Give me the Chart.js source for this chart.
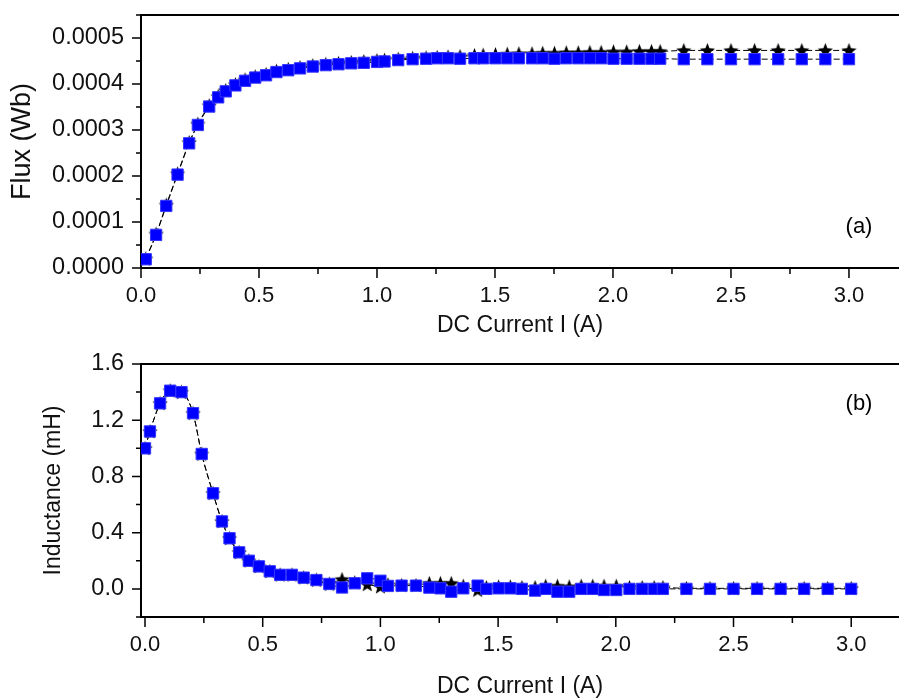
<!DOCTYPE html>
<html>
<head>
<meta charset="utf-8">
<script src="https://cdn.jsdelivr.net/npm/chart.js@4.4.1/dist/chart.umd.min.js"></script>
<style>
  html, body { margin: 0; background: #fff; overflow: hidden; }
  #wrapA { position: absolute; left: 0; top: 0; width: 908px; height: 340px; }
  #wrapB { position: absolute; left: 0; top: 340px; width: 908px; height: 360px; }
</style>
</head>
<body>
<div id="wrapA"><canvas id="fluxChart"></canvas></div>
<div id="wrapB"><canvas id="indChart"></canvas></div>
<script>
// DC current (A) for panel (a)
var currentA = [0.02, 0.064, 0.107, 0.155, 0.204, 0.241, 0.289, 0.327, 0.359, 0.4,
  0.441, 0.484, 0.53, 0.574, 0.624, 0.674, 0.728, 0.783, 0.837, 0.891,
  0.944, 1.0, 1.032, 1.09, 1.151, 1.208, 1.255, 1.301, 1.352, 1.413,
  1.45, 1.502, 1.552, 1.601, 1.657, 1.702, 1.752, 1.802, 1.853, 1.902,
  1.95, 2.002, 2.058, 2.112, 2.163, 2.2, 2.3, 2.4, 2.5, 2.6, 2.7, 2.8, 2.9, 3.0];

// flux (Wb), star series
var fluxStar = [0.000020, 0.000074, 0.000137, 0.000205, 0.000273, 0.000313, 0.000353, 0.000373, 0.000386, 0.000399,
  0.000409, 0.000416, 0.000421, 0.000428, 0.000432, 0.000436, 0.000440, 0.000443, 0.000445, 0.000447,
  0.000449, 0.000451, 0.000452, 0.000454, 0.000456, 0.000457, 0.000458, 0.000459, 0.000460, 0.000462,
  0.000463, 0.000464, 0.000465, 0.000466, 0.000466, 0.000467, 0.000467, 0.000468, 0.000468, 0.000469,
  0.000469, 0.000470, 0.000470, 0.000471, 0.000471, 0.000471, 0.000473, 0.000473, 0.000473, 0.000473, 0.000473, 0.000473, 0.000473, 0.000473];

// flux (Wb), square series
var fluxSquare = [0.000019, 0.000072, 0.000135, 0.000203, 0.000271, 0.000311, 0.000351, 0.000371, 0.000384, 0.000397,
  0.000407, 0.000414, 0.000419, 0.000426, 0.000430, 0.000434, 0.000438, 0.000441, 0.000443, 0.000445,
  0.000446, 0.000448, 0.000449, 0.000452, 0.000454, 0.000455, 0.000456, 0.000456, 0.000455, 0.000456,
  0.000456, 0.000456, 0.000456, 0.000456, 0.000456, 0.000456, 0.000455, 0.000456, 0.000456, 0.000456,
  0.000456, 0.000455, 0.000455, 0.000455, 0.000455, 0.000455, 0.000454, 0.000454, 0.000454, 0.000454, 0.000454, 0.000454, 0.000454, 0.000454];

// DC current (A) for panel (b)
var currentB = [0.0, 0.021, 0.064, 0.107, 0.155, 0.204, 0.241, 0.289, 0.327, 0.359, 0.4,
  0.441, 0.484, 0.53, 0.574, 0.624, 0.674, 0.728, 0.783, 0.837, 0.891,
  0.944, 1.0, 1.032, 1.09, 1.151, 1.208, 1.255, 1.301, 1.352, 1.413,
  1.45, 1.502, 1.552, 1.601, 1.657, 1.702, 1.752, 1.802, 1.853, 1.902,
  1.95, 2.002, 2.058, 2.112, 2.163, 2.2, 2.3, 2.4, 2.5, 2.6, 2.7, 2.8, 2.9, 3.0];

// inductance (mH)
var indStar = [1.00, 1.12, 1.32, 1.41, 1.40, 1.25, 0.96, 0.68, 0.48, 0.36, 0.26,
  0.20, 0.16, 0.125, 0.10, 0.10, 0.08, 0.063, 0.035, 0.068, 0.045,
  0.033, 0.016, 0.03, 0.025, 0.025, 0.04, 0.04, 0.04, 0.02, -0.008,
  0.01, 0.015, 0.015, 0.01, 0.01, 0.02, 0.02, 0.015, 0.02, 0.02,
  0.02, 0.02, 0.01, 0.01, 0.01, 0.01, 0.004, 0.004, 0.004, 0.004, 0.004, 0.004, 0.004, 0.004];

var indSquare = [1.00, 1.12, 1.32, 1.41, 1.40, 1.25, 0.96, 0.68, 0.48, 0.36, 0.26,
  0.20, 0.16, 0.125, 0.10, 0.10, 0.08, 0.063, 0.035, 0.01, 0.04,
  0.075, 0.058, 0.021, 0.023, 0.023, 0.009, 0.004, -0.02, 0.004, 0.023,
  0.0, 0.004, 0.004, 0.0, -0.012, 0.0, -0.02, -0.02, 0.0, 0.0,
  -0.008, -0.008, 0.0, 0.0, 0.0, 0.0, 0.0, 0.0, 0.0, 0.0, 0.0, 0.0, 0.0, 0.0];

var fontFam = '"Liberation Sans", Arial, sans-serif';

function starImage(){
  var c = document.createElement('canvas');
  c.width = 17; c.height = 17;
  var g = c.getContext('2d');
  g.fillStyle = '#000';
  g.beginPath();
  for (var i = 0; i < 10; i++) {
    var r = (i % 2 == 0) ? 8 : 3.4;
    var a = -Math.PI/2 + i*Math.PI/5;
    var px = 8.5 + r*Math.cos(a), py = 9.1 + r*Math.sin(a);
    if (i == 0) g.moveTo(px, py); else g.lineTo(px, py);
  }
  g.closePath();
  g.fill();
  return c;
}
var star = starImage();

function pairs(xs, ys){
  var out = [];
  for (var i = 0; i < xs.length; i++) out.push({x: xs[i], y: ys[i]});
  return out;
}

// ticks drawn by hand so minor ones can be shorter, plus the top frame line and panel tag
var tickMarks = {
  id: 'tickMarks',
  afterDraw: function(chart, args, opts){
    var ctx = chart.ctx, area = chart.chartArea;
    var xs = chart.scales.x, ys = chart.scales.y;
    ctx.save();
    ctx.strokeStyle = '#000';
    ctx.lineWidth = 2;
    ctx.beginPath();
    ctx.moveTo(area.left - 1, area.top);
    ctx.lineTo(area.right, area.top);
    ctx.stroke();
    ctx.lineWidth = 1.5;
    ctx.beginPath();
    xs.ticks.forEach(function(t){
      var p = xs.getPixelForValue(t.value);
      var len = t.label !== '' ? 10 : 6;
      ctx.moveTo(p, area.bottom);
      ctx.lineTo(p, area.bottom + len);
    });
    ys.ticks.forEach(function(t){
      var p = ys.getPixelForValue(t.value);
      var len = t.label !== '' ? 9 : 5;
      ctx.moveTo(area.left, p);
      ctx.lineTo(area.left - len, p);
    });
    ctx.stroke();
    ctx.fillStyle = '#000';
    ctx.font = '22px ' + fontFam;
    ctx.textAlign = 'center';
    ctx.textBaseline = 'middle';
    ctx.fillText(opts.text, 859, opts.fromTop ? area.top + opts.dy : area.bottom - opts.dy);
    ctx.restore();
  }
};

function xLabel(v){
  return Math.abs(v*2 - Math.round(v*2)) < 1e-6 ? v.toFixed(1) : '';
}

function makeChart(id, cfg){
  return new Chart(document.getElementById(id), {
    type: 'line',
    data: {
      datasets: [{
        label: 'square',
        data: cfg.sq,
        borderColor: '#000',
        borderWidth: 1,
        borderDash: [6, 3],
        pointStyle: 'rect',
        pointRadius: 8,
        pointBackgroundColor: '#0000ff',
        pointBorderColor: '#3535ff',
        pointBorderWidth: 1,
        cubicInterpolationMode: 'monotone'
      }, {
        label: 'star',
        data: cfg.st,
        borderColor: '#000',
        borderWidth: 1,
        borderDash: [6, 3],
        pointStyle: star,
        pointRadius: 8,
        cubicInterpolationMode: 'monotone'
      }]
    },
    options: {
      responsive: true,
      maintainAspectRatio: false,
      animation: false,
      layout: {padding: {top: cfg.padTop, left: 0, right: 0, bottom: 0}},
      plugins: {
        legend: {display: false},
        tooltip: {enabled: false},
        tickMarks: cfg.tag
      },
      scales: {
        x: {
          type: 'linear',
          min: cfg.xMin, max: cfg.xMax,
          afterFit: function(s){ s.height = cfg.xHeight; s.paddingLeft = 0; s.paddingRight = 0; },
          grid: {drawOnChartArea: false, drawTicks: false},
          border: {display: true, color: '#000', width: 2},
          ticks: {
            stepSize: 0.25, includeBounds: false, autoSkip: false, maxRotation: 0,
            padding: 15, color: '#111',
            font: {family: fontFam, size: 22},
            callback: xLabel
          },
          title: {display: true, text: 'DC Current I (A)', color: '#111',
            font: {family: fontFam, size: 23}, padding: {top: 0, bottom: cfg.xTitlePad}}
        },
        y: {
          min: cfg.yMin, max: cfg.yMax,
          afterFit: function(s){ s.width = 141; s.paddingTop = 0; s.paddingBottom = 0; },
          grid: {drawOnChartArea: false, drawTicks: false},
          border: {display: true, color: '#000', width: 2},
          ticks: {
            stepSize: cfg.yStep, includeBounds: false, autoSkip: false,
            padding: 17, color: '#111',
            font: {family: fontFam, size: 23.5},
            callback: cfg.yLabel
          },
          title: {display: true, text: cfg.yTitle, color: '#111',
            font: {family: fontFam, size: cfg.yTitleSize}, padding: {top: cfg.yTitlePad, bottom: 0}}
        }
      }
    },
    plugins: [tickMarks]
  });
}

makeChart('fluxChart', {
  sq: pairs(currentA, fluxSquare),
  st: pairs(currentA, fluxStar),
  padTop: 15, xHeight: 72, xTitlePad: 1,
  xMin: 0, xMax: 3.212,
  yMin: 0, yMax: 0.00055, yStep: 0.00005,
  yLabel: function(v){ var k = v*10000; return Math.abs(k - Math.round(k)) < 1e-6 ? v.toFixed(4) : ''; },
  yTitle: 'Flux (Wb)', yTitleSize: 27, yTitlePad: 6,
  tag: {text: '(a)', dy: 41, fromTop: false}
});

makeChart('indChart', {
  sq: pairs(currentB, indSquare),
  st: pairs(currentB, indStar),
  padTop: 24, xHeight: 83, xTitlePad: 0,
  xMin: -0.017, xMax: 3.203,
  yMin: -0.2, yMax: 1.6, yStep: 0.2,
  yLabel: function(v){ var k = v/0.4; return Math.abs(k - Math.round(k)) < 1e-6 ? v.toFixed(1) : ''; },
  yTitle: 'Inductance (mH)', yTitleSize: 23, yTitlePad: 40,
  tag: {text: '(b)', dy: 40, fromTop: true}
});
</script>
</body>
</html>
